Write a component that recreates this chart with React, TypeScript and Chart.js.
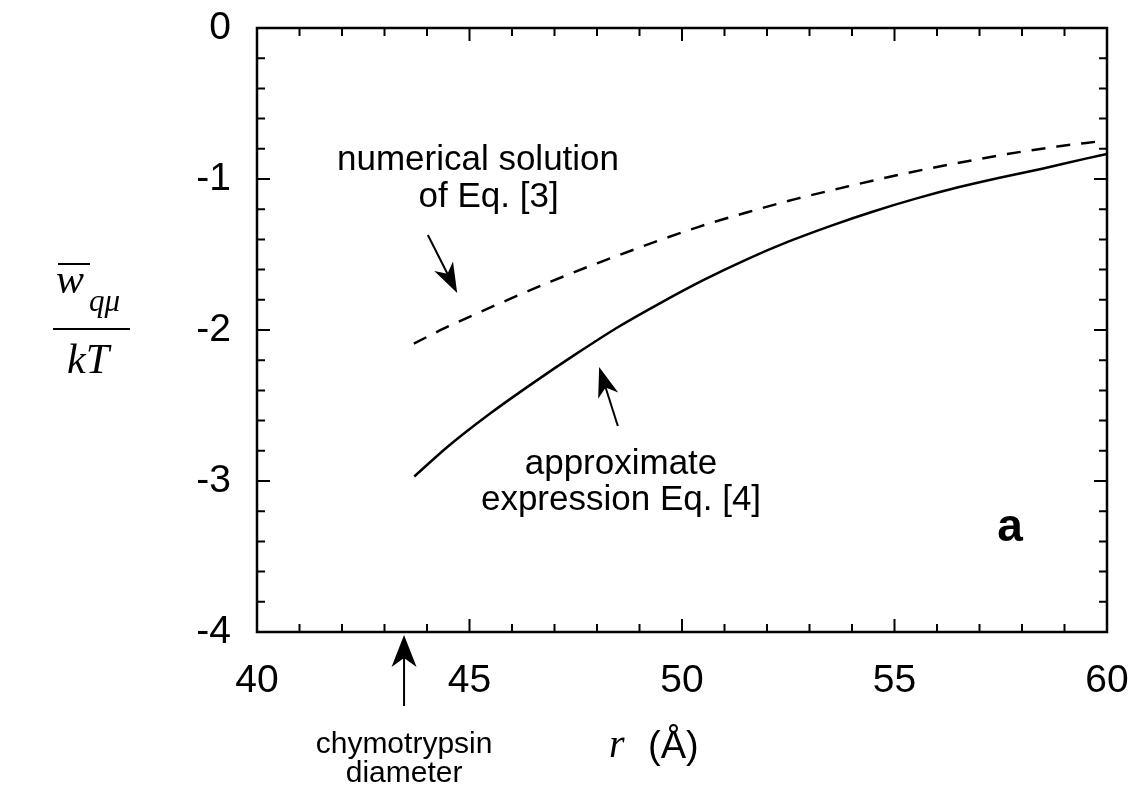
import React, { useEffect, useRef } from "react";
import { Chart, registerables } from "chart.js";

Chart.register(...registerables);

// ---- data ----
const rSolid = [43.7, 44.5, 45.5, 46.5, 47.5, 48.5, 49.5, 50.5, 51.5, 52.5, 53.5, 54.5, 55.5, 56.5, 57.5, 58.5, 59.5, 60];
const wSolid = [-2.97, -2.77, -2.55, -2.35, -2.16, -1.98, -1.82, -1.67, -1.535, -1.415, -1.31, -1.215, -1.13, -1.055, -0.99, -0.93, -0.865, -0.835];
const rDashed = [43.69, 44.4, 45.66, 46.91, 48.08, 50.36, 51.54, 52.71, 53.89, 55.13, 56.38, 57.65, 58.83, 59.84];
const wDashed = [-2.09, -1.99, -1.83, -1.68, -1.55, -1.32, -1.22, -1.13, -1.05, -0.97, -0.9, -0.835, -0.785, -0.75];

const xMin = 40;
const xMax = 60;
const xStep = 5;
const xMinorStep = 1;
const yMin = -4;
const yMax = 0;
const yStep = 1;
const yMinorStep = 0.2;

const labelNumerical = ["numerical solution", "of Eq. [3]"];
const labelApprox = ["approximate", "expression Eq. [4]"];
const labelChymo = ["chymotrypsin", "diameter"];
const panelLabel = "a";
const chymoDiameter = 43.46;

const SANS = '"Liberation Sans", Arial, Helvetica, sans-serif';
const SERIF = '"Liberation Serif", "Times New Roman", serif';

function arrow(ctx: CanvasRenderingContext2D, x1: number, y1: number, x2: number, y2: number, headLen: number, headW: number) {
  const ang = Math.atan2(y2 - y1, x2 - x1);
  const cos = Math.cos(ang), sin = Math.sin(ang);
  const bx = x2 - headLen * cos, by = y2 - headLen * sin;
  ctx.beginPath();
  ctx.moveTo(x1, y1);
  ctx.lineTo(bx + 0.6 * headLen * cos, by + 0.6 * headLen * sin);
  ctx.stroke();
  const px = -sin, py = cos;
  ctx.beginPath();
  ctx.moveTo(x2, y2);
  ctx.lineTo(bx + px * headW / 2, by + py * headW / 2);
  ctx.lineTo(x2 - 0.72 * headLen * cos, y2 - 0.72 * headLen * sin);
  ctx.lineTo(bx - px * headW / 2, by - py * headW / 2);
  ctx.closePath();
  ctx.fill();
}

const decorPlugin = {
  id: "decor",
  afterDraw(chart: any) {
    const ctx: CanvasRenderingContext2D = chart.ctx;
    const xs = chart.scales.x;
    const ys = chart.scales.y;
    const { left, right, top, bottom } = chart.chartArea;
    const X = (v: number) => xs.getPixelForValue(v);
    const Y = (v: number) => ys.getPixelForValue(v);
    ctx.save();
    ctx.strokeStyle = "#000";
    ctx.fillStyle = "#000";
    // frame
    ctx.lineWidth = 2.5;
    ctx.strokeRect(left, top, right - left, bottom - top);
    // inward ticks
    ctx.lineWidth = 2;
    ctx.beginPath();
    for (let v = xMin + xMinorStep; v < xMax - 1e-9; v += xMinorStep) {
      const major = Math.abs(v / xStep - Math.round(v / xStep)) < 1e-6;
      const len = major ? 13 : 8;
      const px = X(v);
      ctx.moveTo(px, bottom); ctx.lineTo(px, bottom - len);
      ctx.moveTo(px, top); ctx.lineTo(px, top + len);
    }
    for (let v = yMin + yMinorStep; v < yMax - 1e-9; v += yMinorStep) {
      const major = Math.abs(v / yStep - Math.round(v / yStep)) < 1e-6;
      const len = major ? 13 : 8;
      const py = Y(v);
      ctx.moveTo(left, py); ctx.lineTo(left + len, py);
      ctx.moveTo(right, py); ctx.lineTo(right - len, py);
    }
    ctx.stroke();

    // annotations
    ctx.textAlign = "center";
    ctx.textBaseline = "alphabetic";
    ctx.font = `35px ${SANS}`;
    ctx.fillText(labelNumerical[0], X(45.2), Y(-0.94));
    ctx.fillText(labelNumerical[1], X(45.45), Y(-1.185));
    ctx.fillText(labelApprox[0], X(48.565), Y(-2.954));
    ctx.fillText(labelApprox[1], X(48.565), Y(-3.192));

    ctx.lineWidth = 2;
    arrow(ctx, X(44.02), Y(-1.371), X(44.71), Y(-1.755), 30, 21);
    arrow(ctx, X(48.49), Y(-2.636), X(48.05), Y(-2.245), 30, 21);

    ctx.textBaseline = "middle";
    ctx.font = `bold 46px ${SANS}`;
    ctx.fillText(panelLabel, X(57.72), Y(-3.311));

    // chymotrypsin arrow and text
    arrow(ctx, X(chymoDiameter), Y(-4.49), X(chymoDiameter), Y(-4.02), 32, 25);
    ctx.textBaseline = "alphabetic";
    ctx.font = `30px ${SANS}`;
    ctx.fillText(labelChymo[0], X(chymoDiameter), Y(-4.8));
    ctx.fillText(labelChymo[1], X(chymoDiameter), Y(-4.995));

    // x-axis title: r (Å)
    ctx.textAlign = "left";
    ctx.font = `italic 40px ${SERIF}`;
    ctx.fillText("r", 609, 757);
    ctx.font = `38px ${SANS}`;
    ctx.fillText("(Å)", 648, 758);

    // y-axis title: fraction w̄_qμ / kT
    ctx.font = `italic 42px ${SERIF}`;
    ctx.fillText("w", 56, 293);
    ctx.lineWidth = 2;
    ctx.beginPath();
    ctx.moveTo(58, 264); ctx.lineTo(90, 264);
    ctx.stroke();
    ctx.font = `italic 31px ${SERIF}`;
    ctx.fillText("qμ", 89, 311);
    ctx.beginPath();
    ctx.moveTo(53, 329); ctx.lineTo(130, 329);
    ctx.stroke();
    ctx.font = `italic 42px ${SERIF}`;
    ctx.fillText("kT", 67, 373);
    ctx.restore();
  },
};

export default function App() {
  const ref = useRef<HTMLCanvasElement | null>(null);
  useEffect(() => {
    if (!ref.current) return;
    const chart = new Chart(ref.current, {
      type: "line",
      data: {
        datasets: [
          {
            label: "approximate expression Eq. [4]",
            data: rSolid.map((r, i) => ({ x: r, y: wSolid[i] })),
            borderColor: "#000",
            borderWidth: 2.5,
            pointRadius: 0,
            cubicInterpolationMode: "monotone",
            fill: false,
          },
          {
            label: "numerical solution of Eq. [3]",
            data: rDashed.map((r, i) => ({ x: r, y: wDashed[i] })),
            borderColor: "#000",
            borderWidth: 2.5,
            borderDash: [14, 11],
            pointRadius: 0,
            cubicInterpolationMode: "monotone",
            fill: false,
          },
        ],
      },
      options: {
        animation: false,
        responsive: true,
        maintainAspectRatio: false,
        layout: { padding: { left: 0, top: 28, right: 28, bottom: 0 } },
        plugins: { legend: { display: false }, tooltip: { enabled: false } },
        scales: {
          x: {
            type: "linear",
            min: xMin,
            max: xMax,
            grid: { display: false, drawTicks: false },
            border: { display: false },
            ticks: {
              stepSize: xStep,
              color: "#000",
              padding: 26,
              font: { family: SANS, size: 39 },
            },
            afterFit: (s: any) => {
              s.height = 163;
              s.paddingLeft = 0;
              s.paddingRight = 0;
              s.paddingTop = 0;
              s.paddingBottom = 0;
            },
          },
          y: {
            type: "linear",
            min: yMin,
            max: yMax,
            grid: { display: false, drawTicks: false },
            border: { display: false },
            ticks: {
              stepSize: yStep,
              color: "#000",
              padding: 26,
              font: { family: SANS, size: 39 },
            },
            afterFit: (s: any) => {
              s.width = 257;
              s.paddingLeft = 0;
              s.paddingRight = 0;
              s.paddingTop = 0;
              s.paddingBottom = 0;
            },
          },
        },
      },
      plugins: [decorPlugin],
    } as any);
    return () => chart.destroy();
  }, []);
  return (
    <div style={{ position: "absolute", left: 0, top: 0, width: 1135, height: 795, background: "#fff" }}>
      <canvas ref={ref} />
    </div>
  );
}
